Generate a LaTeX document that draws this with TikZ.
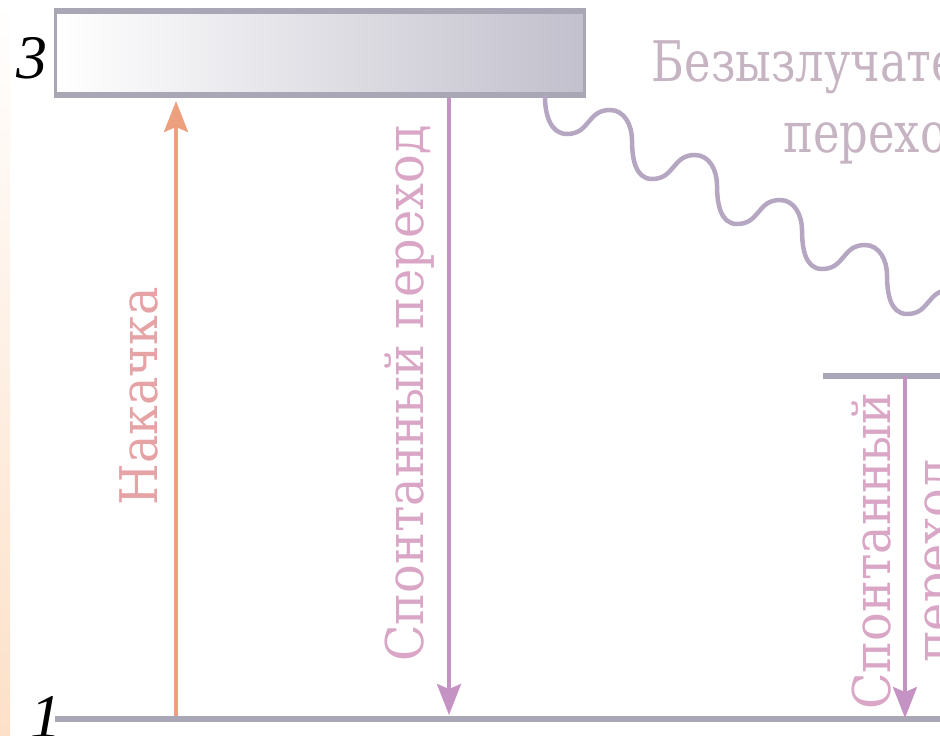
\documentclass[tikz,border=0pt]{standalone}
\usepackage{fontspec}
\setmainfont{Liberation Serif}
\newfontfamily\labelserif[Script=Cyrillic]{DejaVu Serif}
\usetikzlibrary{arrows.meta}

\definecolor{peach}{HTML}{FDE0C8}
\definecolor{levelgray}{HTML}{A9A6B6}
\definecolor{boxgray}{HTML}{C2C0CC}
\definecolor{pumpcol}{HTML}{EDA07E}
\definecolor{pumptext}{HTML}{E6A3A6}
\definecolor{spontcol}{HTML}{C493C4}
\definecolor{sponttext}{HTML}{D9A6C6}
\definecolor{wavecol}{HTML}{B5A6C2}
\definecolor{nrtext}{HTML}{C6B4C2}

\begin{document}
\begin{tikzpicture}[x=1pt,y=-1pt,
  lvl/.style={draw=levelgray, line width=6pt},
  boxside/.style={draw=levelgray, line width=3pt},
  levelbox/.style={draw=none, inner sep=0pt, left color=white, right color=boxgray},
  numlabel/.style={font=\fontsize{62}{62}\selectfont\itshape, text=black, inner sep=0pt, anchor=base},
  tip/.style={-{Stealth[length=31pt,width=24pt,inset=5pt]}},
  pumparrow/.style={tip, draw=pumpcol, fill=pumpcol, line width=3.5pt},
  spontarrow/.style={tip, draw=spontcol, fill=spontcol, line width=3.5pt},
  vlabel/.style={rotate=90, xscale=0.918, inner sep=0pt, anchor=base, font=\labelserif\fontsize{52}{62}\selectfont},
  hlabel/.style={xscale=0.80, inner sep=0pt, anchor=base, text=nrtext, font=\labelserif\fontsize{56}{71}\selectfont},
  wave/.style={draw=wavecol, line width=4.5pt, line cap=round}
]
\useasboundingbox (0,0) rectangle (940,736);
\clip (0,0) rectangle (940,736);

% peach strip along the left edge
\shade[top color=white, bottom color=peach] (0,0) rectangle (10,736);

% level 3: shaded band
\node[levelbox, minimum width=529pt, minimum height=84pt, anchor=north west] (L3) at (55,11) {};
\draw[lvl] ([xshift=-1.5pt]L3.north west) -- ([xshift=1.5pt]L3.north east);
\draw[lvl] ([xshift=-1.5pt]L3.south west) -- ([xshift=1.5pt]L3.south east);
\draw[boxside] (L3.north west) -- (L3.south west);
\draw[boxside] (L3.north east) -- (L3.south east);

% levels 1 and 2
\coordinate (L1w) at (55,719);
\coordinate (L1e) at (945,719);
\coordinate (L2w) at (823,376);
\coordinate (L2e) at (945,376);
\draw[lvl] (L1w) -- (L1e);
\draw[lvl] (L2w) -- (L2e);

% level numbers
\node[numlabel] (n3) at (32,78) {3};
\node[numlabel] (n1) at (46,737) {1};

% pumping 1 -> 3
\coordinate (pumpA) at (176,716);
\coordinate (pumpB) at (176,101);
\draw[pumparrow] (pumpA) -- (pumpB);
\node[vlabel, text=pumptext] (pumplbl) at (157,396.5) {Накачка};

% spontaneous 3 -> 1
\coordinate (sp31A) at (449,98);
\coordinate (sp31B) at (449,715);
\draw[spontarrow] (sp31A) -- (sp31B);
\node[vlabel, text=sponttext] (sp31lbl) at (423,393.5) {Спонтанный переход};

% spontaneous 2 -> 1, label in two lines on both sides of the arrow
\coordinate (sp21A) at (905,376);
\coordinate (sp21B) at (905,718);
\draw[spontarrow] (sp21A) -- (sp21B);
\node[vlabel, text=sponttext] (sp21lblA) at (890,551) {Спонтанный};
\node[vlabel, text=sponttext] (sp21lblB) at (952,561) {переход};

% nonradiative 3 -> 2
\coordinate (w0) at (545,97);
\draw[wave] (w0) to[out=-90,in=180] (567,134)
  to[out=0,in=180,looseness=1.2] (610,110) to[out=0,in=90] (632,140) to[out=-90,in=180] (652,179)
  to[out=0,in=180,looseness=1.2] (695,155) to[out=0,in=90] (717,185) to[out=-90,in=180] (737,224)
  to[out=0,in=180,looseness=1.2] (780,200) to[out=0,in=90] (802,230) to[out=-90,in=180] (822,269)
  to[out=0,in=180,looseness=1.2] (865,245) to[out=0,in=90] (887,275) to[out=-90,in=180] (907,314)
  to[out=0,in=180,looseness=1.2] (950,290) to[out=0,in=90] (972,320);
\node[hlabel] (nrlblA) at (879,81) {Безызлучательный};
\node[hlabel] (nrlblB) at (879,152) {переход};
\end{tikzpicture}
\end{document}
